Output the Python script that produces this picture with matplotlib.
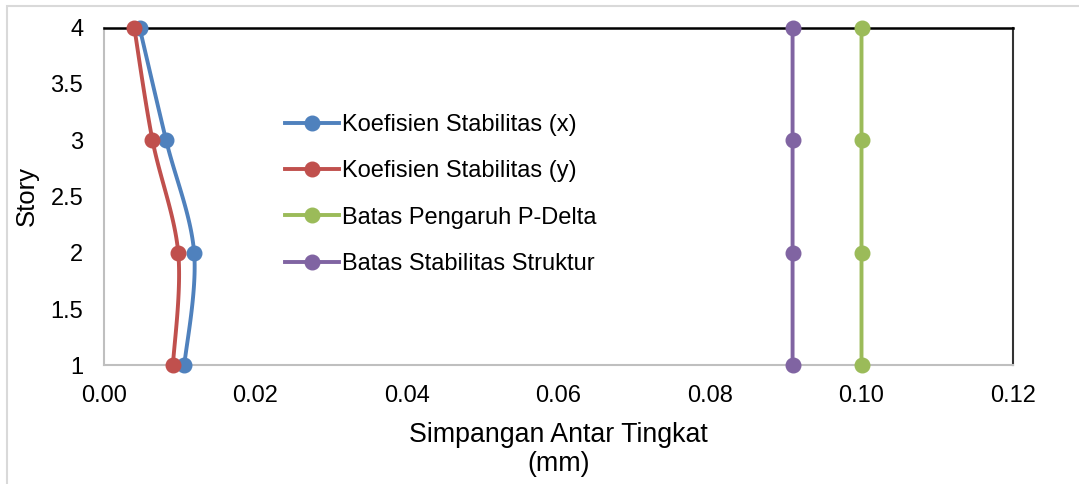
import numpy as np
import matplotlib
matplotlib.use("Agg")
import matplotlib.pyplot as plt
from matplotlib.patches import Rectangle

plt.rcParams['font.family'] = ['Liberation Sans', 'DejaVu Sans']

# Story levels and stability coefficients
stories = [1, 2, 3, 4]
theta_x = [0.0106, 0.0119, 0.0082, 0.0047]
theta_y = [0.0091, 0.0098, 0.0064, 0.0040]
pdelta_limit = [0.10, 0.10, 0.10, 0.10]
stability_limit = [0.0909, 0.0909, 0.0909, 0.0909]

labels = ["Koefisien Stabilitas (x)", "Koefisien Stabilitas (y)",
          "Batas Pengaruh P-Delta", "Batas Stabilitas Struktur"]
colors = ["#4F81BD", "#C0504D", "#9BBB59", "#8064A2"]

x_ticks = [0.00, 0.02, 0.04, 0.06, 0.08, 0.10, 0.12]
y_ticks = [1, 1.5, 2, 2.5, 3, 3.5, 4]


def smooth(xs, ys, n=40):
    """Bezier smoothing through the points (Catmull-Rom style control points)."""
    p = np.column_stack([xs, ys]).astype(float)
    out = []
    for i in range(len(p) - 1):
        p0 = p[i - 1] if i > 0 else p[i]
        p1, p2 = p[i], p[i + 1]
        p3 = p[i + 2] if i + 2 < len(p) else p[i + 1]
        c1 = p1 + (p2 - p0) / 6.0
        c2 = p2 - (p3 - p1) / 6.0
        t = np.linspace(0, 1, n)[:, None]
        seg = ((1 - t) ** 3) * p1 + 3 * ((1 - t) ** 2) * t * c1 \
            + 3 * (1 - t) * t ** 2 * c2 + t ** 3 * p2
        out.append(seg if i == 0 else seg[1:])
    s = np.vstack(out)
    return s[:, 0], s[:, 1]


W, H = 1079, 484
fig = plt.figure(figsize=(W / 100, H / 100), dpi=100)
ax = fig.add_axes([104 / W, 1 - 365.3 / H, (1013 - 104) / W, (365.3 - 27.7) / H])

LW = 2.8
MS = 10.5
series = [theta_x, theta_y, pdelta_limit, stability_limit]
for vals, lab, col in zip(series, labels, colors):
    sx, sy = smooth(vals, stories)
    ax.plot(sx, sy, color=col, lw=LW, solid_capstyle='round',
            solid_joinstyle='round', snap=False, zorder=3)
    ax.plot(vals, stories, linestyle='none', marker='o', markersize=MS,
            color=col, zorder=4, clip_on=False)

# legend handles (line with marker)
handles = [plt.Line2D([], [], color=c, lw=LW, marker='o', markersize=MS)
           for c in colors]
leg = ax.legend(handles, labels, loc='upper left',
                bbox_to_anchor=(285 / W, 1 - 114 / H),
                bbox_transform=fig.transFigure, frameon=False,
                fontsize=17, handlelength=2.3, handletextpad=0.12,
                labelspacing=1.03, borderpad=0, borderaxespad=0,
                numpoints=1)

ax.set_xlim(0, 0.12)
ax.set_ylim(1, 4)
ax.set_xticks(x_ticks)
ax.set_xticklabels([f"{v:.2f}" for v in x_ticks])
ax.set_yticks(y_ticks)
ax.set_yticklabels([f"{v:g}" for v in y_ticks])
ax.tick_params(axis='both', length=0, labelsize=17)
ax.tick_params(axis='x', pad=14)
ax.tick_params(axis='y', pad=15)

ax.set_xlabel("Simpangan Antar Tingkat\n(mm)", fontsize=19.3, labelpad=11,
              linespacing=1.15)
ax.set_ylabel("Story", fontsize=18.5, labelpad=8)

for side in ('left', 'bottom'):
    ax.spines[side].set_color('#BFBFBF')
    ax.spines[side].set_linewidth(1.5)
ax.spines['top'].set_color('black')
ax.spines['top'].set_linewidth(1.8)
ax.spines['right'].set_color('#333333')
ax.spines['right'].set_linewidth(1.5)
for s in ax.spines.values():
    s.set_zorder(2)

# chart area border
fig.patches.append(Rectangle((7 / W, -0.1), 1.2, 1.1 - 6 / H,
                             transform=fig.transFigure, fill=False,
                             edgecolor='#D9D9D9', lw=1.5))

fig.savefig("out.png", dpi=100)
